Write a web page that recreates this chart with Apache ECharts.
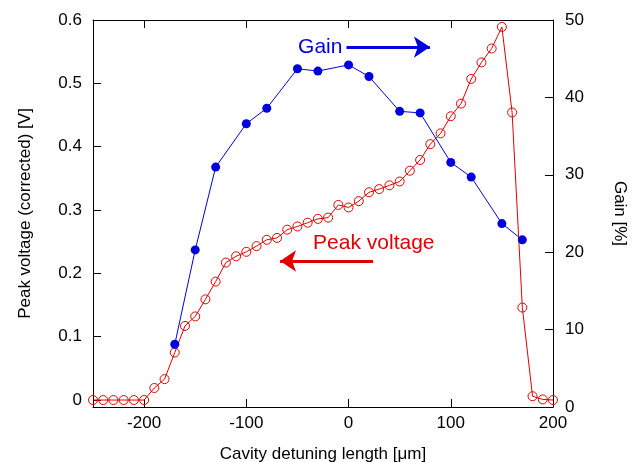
<!DOCTYPE html>
<html><head><meta charset="utf-8">
<script src="https://cdn.jsdelivr.net/npm/echarts@6/dist/echarts.min.js"></script>
<style>html,body{margin:0;padding:0;background:#fff}#c{width:636px;height:462px}</style>
</head><body><div id="c"></div>
<script>
// Peak voltage (left axis, V)
const voltX = [-250,-240,-230,-220,-210,-200,-190,-180,-170,-160,-150,-140,-130,-120,-110,-100,-90,-80,-70,-60,-50,-40,-30,-20,-10,0,10,20,30,40,50,60,70,80,90,100,110,120,130,140,150,160,170,180,190,200];
const voltY = [0,0,0,0,0,0,0.019,0.033,0.075,0.117,0.132,0.159,0.187,0.217,0.227,0.234,0.243,0.253,0.256,0.269,0.274,0.280,0.286,0.288,0.308,0.304,0.314,0.328,0.333,0.339,0.345,0.362,0.379,0.404,0.421,0.448,0.468,0.507,0.533,0.555,0.589,0.454,0.146,0.006,0.001,0];
// Gain (right axis, %)
const gainX = [-170,-150,-130,-100,-80,-50,-30,0,20,50,70,100,120,150,170];
const gainY = [8.1,20.3,31.0,36.6,38.6,43.7,43.4,44.2,42.7,38.2,38.0,31.6,29.7,23.7,21.6];
// Tick labels
const xTicks = [-200,-100,0,100,200];
const yLeftTicks = [0,0.1,0.2,0.3,0.4,0.5,0.6];
const yRightTicks = [0,10,20,30,40,50];
// Annotations (data coordinates)
const gainLabel = {text:'Gain', x:-6, y:46.5};
const gainArrow = {x0:-2, x1:79.6, y:46.5};
const voltLabel = {text:'Peak voltage', x:-34.7, y:0.248};
const voltArrow = {x0:24, x1:-67, y:0.2195};

const RED = '#e00000', BLUE = '#0000dd';
const FONT = '"Liberation Sans", Arial, sans-serif';
const FS = 17;
const chart = echarts.init(document.getElementById('c'));
const axisCommon = {
  axisLine:{show:true, onZero:false, lineStyle:{color:'#000', width:1}},
  splitLine:{show:false},
  nameTextStyle:{fontFamily:FONT, fontSize:FS, color:'#000'}
};
chart.setOption({
  animation:false,
  grid:{left:93, right:83, top:20, bottom:55, containLabel:false, outerBoundsMode:'none'},
  xAxis:[
    Object.assign({}, axisCommon, {
      type:'value', position:'bottom', min:-250, max:200,
      name:'Cavity detuning length [\u03bcm]', nameLocation:'middle', nameGap:39,
      axisTick:{show:true, inside:true, length:8, customValues:xTicks, lineStyle:{color:'#000'}},
      axisLabel:{show:true, customValues:xTicks, margin:8, fontFamily:FONT, fontSize:FS, color:'#000'}
    }),
    Object.assign({}, axisCommon, {
      type:'value', position:'top', min:-250, max:200,
      axisTick:{show:true, inside:true, length:8, customValues:xTicks, lineStyle:{color:'#000'}},
      axisLabel:{show:false}
    })
  ],
  yAxis:[
    Object.assign({}, axisCommon, {
      type:'value', position:'left', min:-0.011, max:0.6,
      name:'Peak voltage (corrected) [V]', nameLocation:'middle', nameGap:59,
      axisTick:{show:true, inside:true, length:8, customValues:yLeftTicks, lineStyle:{color:'#000'}},
      axisLabel:{show:true, customValues:yLeftTicks, margin:11, fontFamily:FONT, fontSize:FS, color:'#000',
        formatter:v => v === 0 ? '0' : v.toFixed(1)}
    }),
    Object.assign({}, axisCommon, {
      type:'value', position:'right', min:0, max:50, interval:10,
      name:'Gain [%]', nameLocation:'middle', nameGap:58, nameRotate:-90,
      axisTick:{show:true, inside:true, length:8, customValues:yRightTicks, lineStyle:{color:'#000'}},
      axisLabel:{show:true, customValues:yRightTicks, margin:12, fontFamily:FONT, fontSize:FS, color:'#000'}
    })
  ],
  series:[
    {
      type:'line', xAxisIndex:0, yAxisIndex:0, color:RED,
      data: voltX.map((x,i)=>[x, voltY[i]]),
      symbol:'circle', symbolSize:9,
      itemStyle:{color:'rgba(0,0,0,0)', borderColor:RED, borderWidth:1},
      lineStyle:{color:RED, width:1},
      emphasis:{disabled:true}, silent:true,
      markLine:{
        silent:true, symbol:['none','arrow'], symbolSize:16,
        label:{show:false}, emphasis:{disabled:true},
        lineStyle:{color:RED, width:3, type:'solid'},
        data:[[{coord:[voltArrow.x0, voltArrow.y]},{coord:[voltArrow.x1, voltArrow.y]}]]
      },
      markPoint:{
        silent:true, symbol:'circle', symbolSize:0,
        data:[{coord:[voltLabel.x, voltLabel.y],
          label:{show:true, position:'right', distance:0, formatter:voltLabel.text,
            fontFamily:FONT, fontSize:21, color:RED}}]
      }
    },
    {
      type:'line', xAxisIndex:0, yAxisIndex:1, color:BLUE,
      data: gainX.map((x,i)=>[x, gainY[i]]),
      symbol:'circle', symbolSize:9,
      itemStyle:{color:BLUE},
      lineStyle:{color:BLUE, width:1},
      emphasis:{disabled:true}, silent:true,
      markLine:{
        silent:true, symbol:['none','arrow'], symbolSize:16,
        label:{show:false}, emphasis:{disabled:true},
        lineStyle:{color:BLUE, width:3, type:'solid'},
        data:[[{coord:[gainArrow.x0, gainArrow.y]},{coord:[gainArrow.x1, gainArrow.y]}]]
      },
      markPoint:{
        silent:true, symbol:'circle', symbolSize:0,
        data:[{coord:[gainLabel.x, gainLabel.y],
          label:{show:true, position:'left', distance:0, formatter:gainLabel.text,
            fontFamily:FONT, fontSize:21, color:BLUE}}]
      }
    }
  ]
});
</script></body></html>
